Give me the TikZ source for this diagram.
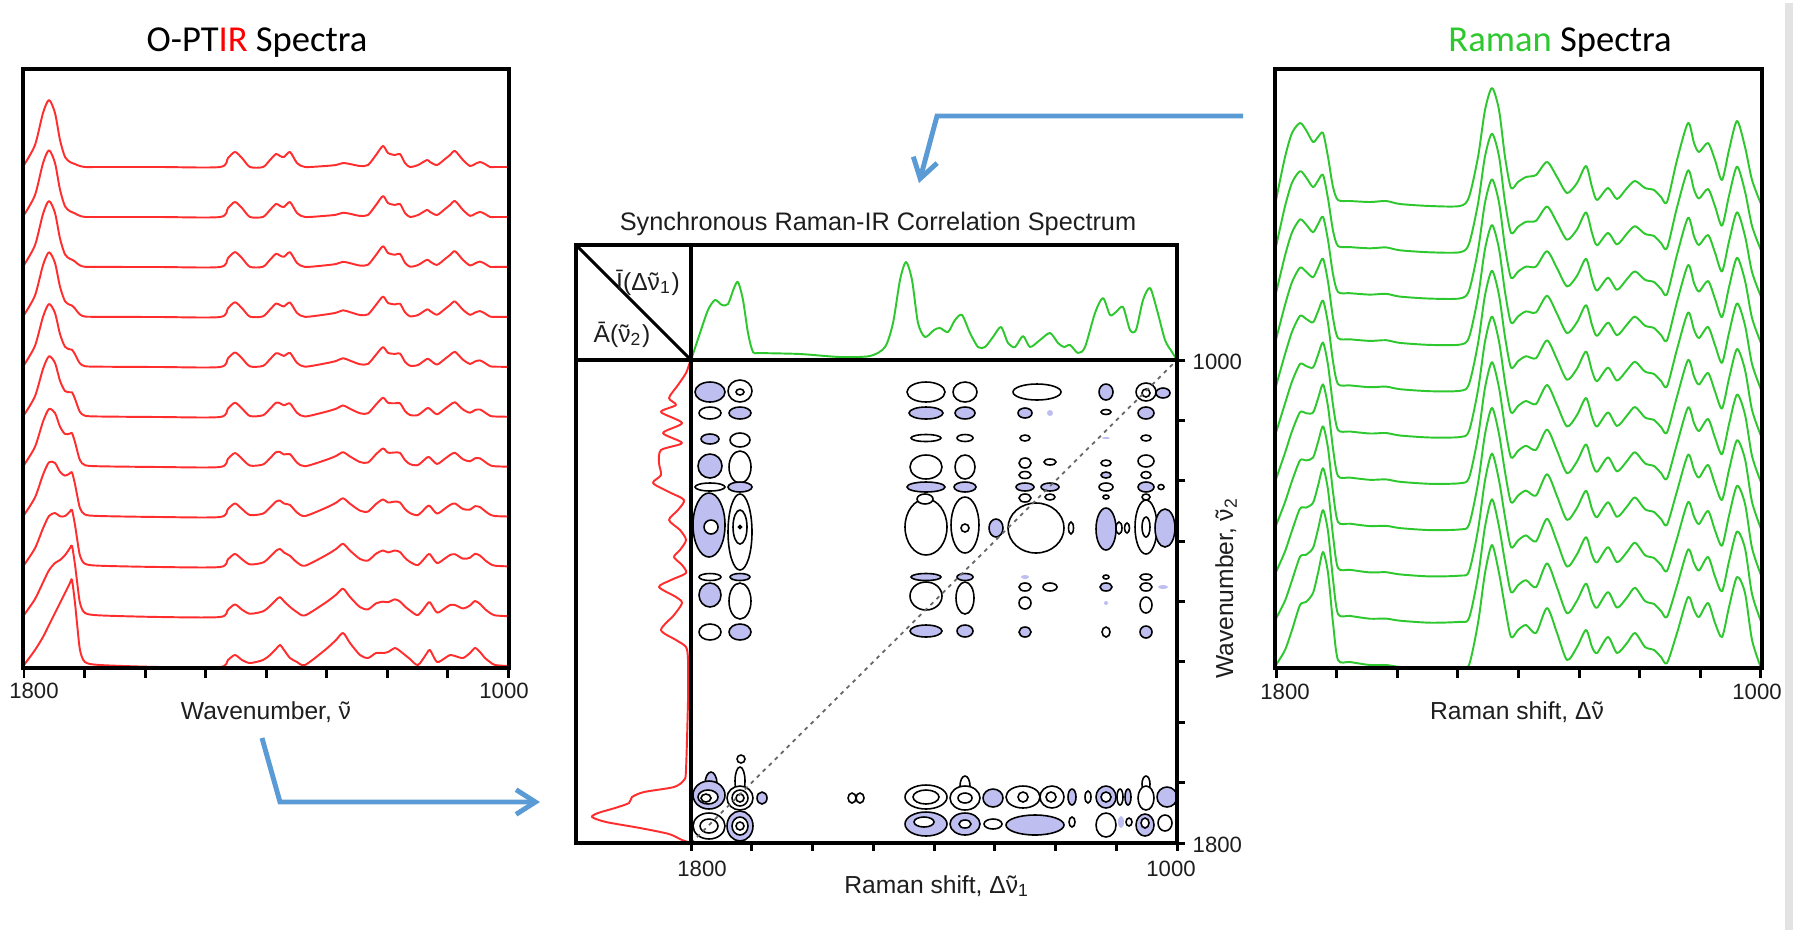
\documentclass[tikz,border=0pt]{standalone}
\usepackage{fontspec}
\setmainfont{Liberation Sans}
\newfontfamily\carl{Carlito}
\usetikzlibrary{arrows.meta}
\definecolor{irred}{RGB}{255,45,45}
\definecolor{ramgreen}{RGB}{45,200,45}
\definecolor{lav}{RGB}{190,190,240}
\definecolor{arrblue}{RGB}{91,155,213}
\definecolor{txt}{RGB}{30,30,30}
\newcommand\cblob[5]{\path[#1] (#2,#3) ellipse [x radius=#4, y radius=#5];}
\newcommand\nut{{\ooalign{ν\cr\hidewidth\char"02DC\hidewidth\cr}}}
\newcommand\irpts{24/2/2, 35/22/17, 43/54/30, 49/67/42, 55/54/54, 60/27/64, 65/10/74, 70/5/84, 72/4/87, 75/3/64, 77/2/44, 80/1/17, 85/0/5, 100/0/2, 160/0/0, 220/0/0, 228/9/7, 235/15/12, 242/9/7, 250/0/4, 263/0/7, 270/7/12, 276/13/18, 280/11/22, 284/10/17, 290/15/9, 297/4/5, 305/0/2, 325/1/17, 336/2/27, 343/4/34, 350/3/24, 360/1/12, 368/2/9, 376/12/14, 383/21/14, 388/14/15, 395/12/19, 400/13/16, 405/4/12, 410/0/8, 418/2/2, 427/7/14, 430/5/17, 437/2/5, 445/8/9, 450/12/12, 455/16/11, 463/7/9, 470/1/14, 475/3/19, 480/5/15, 485/3/9, 490/0/5, 495/0/2, 508/0/1}
\newcommand\rampts{1276/4/3, 1285/47/18, 1292/71/38, 1300/81/63, 1306/74/66, 1313/62/75, 1318/67/95, 1323/71/116, 1328/47/95, 1333/17/45, 1338/4/8, 1350/3/6, 1370/2/3, 1386/3/3, 1400/0/1, 1430/-2/-1, 1460/-2/0, 1469/7/3, 1478/47/45, 1485/94/95, 1492/116/123, 1499/94/95, 1505/47/61, 1511/16/31, 1518/22/38, 1526/27/43, 1536/29/35, 1547/42/60, 1557/27/35, 1567/11/8, 1577/21/21, 1586/38/38, 1592/17/21, 1597/4/15, 1608/16/31, 1617/5/15, 1627/16/25, 1635/23/35, 1645/16/21, 1654/14/18, 1661/7/11, 1667/2/5, 1677/44/35, 1688/81/71, 1694/61/58, 1699/52/51, 1708/61/65, 1715/44/45, 1722/24/31, 1729/54/61, 1737/83/91, 1745/57/75, 1752/24/28, 1761/0/0}
\begin{document}
\begin{tikzpicture}[x=0.01cm,y=-0.01cm,
  pbox/.style={line width=1.1pt, black},
  tk/.style={line width=0.85pt, black},
  irline/.style={irred, line width=0.55pt, line join=round},
  ramline/.style={ramgreen, line width=0.55pt, line join=round},
  cpos/.style={draw=black, line width=0.45pt, fill=lav},
  cneg/.style={draw=black, line width=0.45pt, fill=white},
  cspot/.style={fill=lav},
  ttl/.style={font=\carl\fontsize{10.4}{12}\selectfont, inner sep=0, anchor=base},
  axl/.style={font=\fontsize{7}{8}\selectfont, text=txt, inner sep=0, anchor=base},
  tkl/.style={font=\fontsize{6.3}{7}\selectfont, text=txt, inner sep=0, anchor=base},
  flow/.style={arrblue, line width=1.4pt, -{Straight Barb[length=5.5pt,width=7pt]}},
]
\useasboundingbox (0,0) rectangle (1800,930);
\fill[white] (0,0) rectangle (1800,930);
\draw[gray!22, line width=2.3pt] (1789,3) -- (1789,930);

% ---------- left panel: O-PTIR spectra ----------
\foreach \i in {0,...,10}{
  \pgfmathsetmacro\w{(\i/10)^2}
  \pgfmathsetmacro\yb{167+50*\i}
  \gdef\pts{}
  \foreach \xx/\ha/\hb in \irpts {
    \pgfmathsetmacro\yy{\yb-(\ha+(\hb-\ha)*\w)}
    \xdef\pts{\pts (\xx,\yy)}
  }
  \edef\tmp{\noexpand\draw[irline] plot[smooth,tension=0.45] coordinates {\pts};}
  \tmp
}
\draw[pbox] (23,69) rectangle (509,668);
\foreach \k in {0,...,8} \draw[tk] ({24+60.55*\k},668) -- ++(0,10);
\node[ttl] (ttir) at (257,51) {O-PT\textcolor{red}{IR} Spectra};
\node[tkl] (l18) at (34,698) {1800};
\node[tkl] (l10) at (504,698) {1000};
\node[axl] (lax) at (266,719) {Wavenumber, \nut};

% ---------- right panel: Raman spectra ----------
\foreach \i in {0,...,10}{
  \pgfmathsetmacro\w{\i/10}
  \pgfmathsetmacro\yb{204+46.4*\i}
  \gdef\pts{}
  \foreach \xx/\ha/\hb in \rampts {
    \pgfmathsetmacro\yy{\yb-(\ha+(\hb-\ha)*\w)}
    \xdef\pts{\pts (\xx,\yy)}
  }
  \edef\tmp{\noexpand\draw[ramline] plot[smooth,tension=0.45] coordinates {\pts};}
  \tmp
}
\draw[pbox] (1275,69) rectangle (1762,668);
\foreach \k in {0,...,8} \draw[tk] ({1276+60.6*\k},668) -- ++(0,10);
\node[ttl] (ttram) at (1560,51) {\textcolor{ramgreen}{Raman} Spectra};
\node[tkl] (r18) at (1285,699) {1800};
\node[tkl] (r10) at (1757,699) {1000};
\node[axl] (rax) at (1517,719) {Raman shift, Δ\nut};

% ---------- middle: 2D correlation map ----------
% column A
\cblob{cpos}{710}{392}{15}{10}
\cblob{cneg}{710}{413}{11}{6}
\cblob{cpos}{710}{439}{9}{5}
\cblob{cpos}{710}{466}{12}{12}
\cblob{cneg}{710}{487}{15}{4}
\cblob{cpos}{709}{525}{16}{32}
\cblob{cneg}{711}{527}{7}{7}
\cblob{cneg}{710}{577}{11}{3.5}
\cblob{cpos}{710}{595}{11}{12}
\cblob{cneg}{710}{632}{11}{8}
% column B
\cblob{cneg}{740}{391}{12}{11}
\cblob{cneg}{740}{392}{4}{3}
\cblob{cpos}{740}{413}{11}{6}
\cblob{cneg}{740}{440}{10}{7}
\cblob{cneg}{740}{467}{11}{16}
\cblob{cpos}{740}{487}{12}{5}
\cblob{cneg}{740}{532}{12}{38}
\cblob{cneg}{740}{527}{7}{17}
\cblob{cneg}{740}{527}{1.5}{1.5}
\cblob{cpos}{740}{577}{10}{3.5}
\cblob{cneg}{740}{601}{11}{18}
\cblob{cpos}{740}{632}{11}{8}
% column C
\cblob{cneg}{926}{392}{19}{10}
\cblob{cpos}{926}{413}{17}{6}
\cblob{cneg}{926}{438}{15}{3.5}
\cblob{cneg}{926}{467}{16}{12}
\cblob{cneg}{926}{527}{21}{28}
\cblob{cpos}{926}{487}{19}{5}
\cblob{cneg}{925}{499}{8}{5}
\cblob{cpos}{926}{577}{15}{3.5}
\cblob{cneg}{926}{596}{16}{14}
\cblob{cpos}{926}{631}{16}{6}
% column D
\cblob{cneg}{965}{392}{12}{10}
\cblob{cpos}{965}{413}{10}{6}
\cblob{cneg}{965}{438}{8}{3.5}
\cblob{cneg}{965}{467}{10}{12}
\cblob{cneg}{965}{525}{14}{28}
\cblob{cpos}{965}{487}{11}{5}
\cblob{cneg}{965}{528}{4}{4}
\cblob{cpos}{965}{577}{8}{3.5}
\cblob{cneg}{965}{598}{9}{16}
\cblob{cpos}{965}{631}{8}{6}
\cblob{cpos}{996}{528}{7}{9}
% column E
\cblob{cneg}{1037}{392}{24}{8}
\cblob{cpos}{1025}{413}{7}{5}
\cblob{cspot}{1050}{413}{3}{3}
\cblob{cneg}{1025}{438}{5}{3}
\cblob{cneg}{1025}{463}{6}{5}
\cblob{cneg}{1050}{462}{6}{3}
\cblob{cneg}{1025}{475}{6}{3.5}
\cblob{cneg}{1036}{528}{28}{25}
\cblob{cpos}{1025}{487}{9}{4}
\cblob{cpos}{1050}{487}{9}{4}
\cblob{cneg}{1025}{498}{6}{4}
\cblob{cneg}{1050}{497}{5}{3}
\cblob{cspot}{1025}{577}{4}{2}
\cblob{cneg}{1025}{587}{6}{4}
\cblob{cneg}{1050}{587}{7}{4}
\cblob{cneg}{1025}{603}{6}{6}
\cblob{cpos}{1025}{632}{6}{5}
\cblob{cneg}{1071}{528}{2.5}{6}
% column F
\cblob{cpos}{1106}{392}{7}{8}
\cblob{cneg}{1106}{412}{5}{2.5}
\cblob{cspot}{1106}{438}{4}{1}
\cblob{cneg}{1106}{463}{5}{3}
\cblob{cpos}{1106}{475}{5}{3}
\cblob{cneg}{1106}{487}{7}{4}
\cblob{cneg}{1106}{497}{3}{2}
\cblob{cpos}{1106}{529}{10}{21}
\cblob{cneg}{1119}{528}{3}{6}
\cblob{cneg}{1127}{528}{2.5}{5}
\cblob{cneg}{1106}{577}{3}{2}
\cblob{cpos}{1106}{587}{6}{4}
\cblob{cspot}{1106}{603}{2}{2}
\cblob{cneg}{1106}{632}{4}{5}
% column G
\cblob{cneg}{1146}{392}{10}{9}
\cblob{cneg}{1146}{393}{4}{4}
\cblob{cpos}{1163}{393}{7}{5}
\cblob{cpos}{1146}{413}{8}{6}
\cblob{cneg}{1146}{438}{5}{3}
\cblob{cneg}{1146}{461}{8}{6}
\cblob{cneg}{1146}{475}{5}{3.5}
\cblob{cpos}{1146}{487}{8}{5}
\cblob{cneg}{1161}{487}{3}{2.5}
\cblob{cneg}{1146}{497}{4}{3}
\cblob{cneg}{1146}{527}{11}{27}
\cblob{cneg}{1146}{527}{4}{10}
\cblob{cpos}{1165}{528}{10}{19}
\cblob{cneg}{1146}{577}{6}{3}
\cblob{cneg}{1146}{587}{6}{4}
\cblob{cneg}{1146}{605}{6}{8}
\cblob{cspot}{1163}{587}{5}{2}
\cblob{cpos}{1146}{632}{6}{6}
% bottom rows
\cblob{cpos}{711}{784}{6}{12}
\cblob{cpos}{709}{795}{16}{14}
\cblob{cneg}{708}{797}{10}{7}
\cblob{cneg}{706}{798}{5}{4}
\cblob{cneg}{709}{826}{16}{13}
\cblob{cneg}{709}{826}{9}{7}
\cblob{cneg}{740}{781}{5}{14}
\cblob{cneg}{741}{759}{4}{4}
\cblob{cneg}{740}{798}{13}{12}
\cblob{cneg}{740}{798}{8}{8}
\cblob{cneg}{740}{798}{4}{4}
\cblob{cpos}{740}{826}{13}{15}
\cblob{cneg}{740}{826}{8}{9}
\cblob{cneg}{740}{826}{4}{4}
\cblob{cpos}{762}{798}{5}{6}
\cblob{cneg}{852}{798}{4}{5}
\cblob{cneg}{860}{798}{4}{5}
\cblob{cneg}{926}{797}{21}{12}
\cblob{cneg}{926}{797}{13}{7}
\cblob{cpos}{926}{824}{21}{12}
\cblob{cneg}{924}{822}{10}{5}
\cblob{cneg}{965}{786}{5}{10}
\cblob{cneg}{965}{798}{15}{12}
\cblob{cneg}{965}{798}{7}{5}
\cblob{cpos}{965}{824}{15}{11}
\cblob{cneg}{965}{824}{6}{4}
\cblob{cpos}{993}{798}{10}{9}
\cblob{cneg}{993}{824}{9}{5}
\cblob{cneg}{1023}{797}{17}{11}
\cblob{cneg}{1023}{797}{5}{5}
\cblob{cneg}{1052}{797}{12}{11}
\cblob{cneg}{1051}{797}{5}{5}
\cblob{cpos}{1035}{825}{29}{10}
\cblob{cpos}{1072}{797}{4}{8}
\cblob{cneg}{1072}{822}{3}{5}
\cblob{cneg}{1088}{797}{3}{6}
\cblob{cpos}{1106}{797}{10}{11}
\cblob{cneg}{1106}{797}{5}{5}
\cblob{cneg}{1106}{825}{10}{12}
\cblob{cneg}{1120}{797}{3}{8}
\cblob{cpos}{1128}{797}{3}{8}
\cblob{cspot}{1121}{822}{3}{6}
\cblob{cneg}{1129}{822}{3}{4}
\cblob{cneg}{1146}{784}{4}{8}
\cblob{cneg}{1146}{798}{8}{12}
\cblob{cpos}{1145}{825}{9}{11}
\cblob{cneg}{1145}{823}{4}{5}
\cblob{cpos}{1167}{797}{10}{10}
\cblob{cneg}{1165}{823}{7}{8}

% diagonal
\coordinate (d1800) at (691,843);
\coordinate (d1000) at (1177,360);
\draw[black!60, line width=0.5pt, dash pattern=on 1.1pt off 1.3pt] (d1800) -- (d1000);

% average Raman spectrum (top)
\draw[ramline] plot[smooth,tension=0.45] coordinates {
 (691,360) (700,333) (708,310) (715,300) (722,305) (728,304) (734,288) (738,282) (743,300)
 (748,333) (753,352) (760,353) (800,354) (840,357) (870,356) (885,347) (893,323) (900,280)
 (906,262) (912,280) (918,323) (925,337) (934,330) (940,328) (948,332) (955,320) (962,315)
 (970,333) (978,347) (985,347) (993,337) (1001,327) (1008,343) (1015,347) (1023,336)
 (1030,347) (1040,340) (1050,333) (1058,343) (1064,347) (1070,345) (1078,353) (1085,347)
 (1095,313) (1103,298) (1110,315) (1116,312) (1123,307) (1130,330) (1136,330) (1143,300)
 (1150,288) (1157,310) (1165,340) (1172,352) (1177,360)};
% average IR spectrum (left, vertical)
\draw[irline] plot[smooth,tension=0.45] coordinates {
 (691,360) (690,362) (686,373) (678,385) (669,398) (676,405) (661,412) (682,423) (663,433)
 (682,443) (661,450) (659,463) (661,475) (653,483) (669,492) (684,500) (678,510) (669,520)
 (680,530) (686,540) (680,550) (674,557) (682,565) (686,573) (671,580) (659,587) (676,597)
 (682,603) (674,615) (661,630) (676,640) (686,647) (688,660) (688,700) (686,770) (684,780)
 (674,787) (644,792) (632,797) (629,803) (615,808) (598,813) (592,817) (606,822) (640,828)
 (669,834) (682,840) (691,843)};

% frame
\draw[pbox] (576,245) rectangle (1177,843);
\draw[pbox] (691,245) -- (691,843);
\draw[pbox] (576,360) -- (1177,360);
\draw[line width=0.85pt] (576,245) -- (691,360);
\foreach \k in {0,...,8} \draw[tk] (1177,{360+60.375*\k}) -- ++(8,0);
\foreach \k in {0,...,8} \draw[tk] ({691+60.75*\k},843) -- ++(0,8);

\node[font=\fontsize{7.2}{8}\selectfont, text=txt, inner sep=0, anchor=base] (ttsync) at (878,230) {Synchronous Raman-IR Correlation Spectrum};
\node[axl] (ilab) at (648,290) {Ī(Δ\nut\textsubscript{1})};
\node[axl] (alab) at (622,342) {Ā(\nut\textsubscript{2})};
\node[tkl] (m18) at (702,876) {1800};
\node[tkl] (m10) at (1171,876) {1000};
\node[axl] (max) at (937,893) {Raman shift, Δ\nut\textsubscript{1}};
\node[tkl, anchor=west] (y10) at (1192,362) {1000};
\node[tkl, anchor=west] (y18) at (1192,845) {1800};
\node[font=\fontsize{7}{8}\selectfont, text=txt, inner sep=0, rotate=90] (may) at (1226,588) {Wavenumber, \nut\textsubscript{2}};

% ---------- arrows ----------
\coordinate (a1s) at (1243,116);
\coordinate (a1c) at (937,116);
\coordinate (a1e) at (919,183);
\draw[flow] (a1s) -- (a1c) -- (a1e);
\coordinate (a2s) at (262,738);
\coordinate (a2c) at (280,802);
\coordinate (a2e) at (540,802);
\draw[flow] (a2s) -- (a2c) -- (a2e);
\end{tikzpicture}
\end{document}
